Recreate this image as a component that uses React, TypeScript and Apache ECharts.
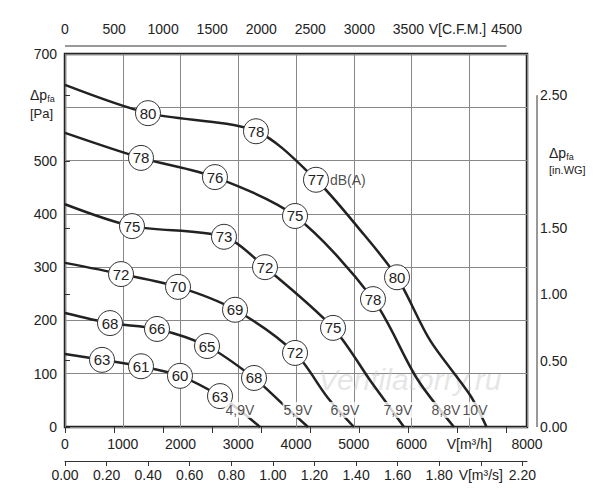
import React, { useEffect, useRef } from "react";
import * as echarts from "echarts";

const curveNames = ["4,9V", "5,9V", "6,9V", "7,9V", "8,8V", "10V"];
const curves: number[][][] = [
  [[0, 137], [641, 126], [1316, 114], [1991, 96], [2684, 58], [3100, 25], [3377, 0]],
  [[0, 214], [779, 195], [1593, 184], [2459, 152], [3273, 92], [3800, 40], [4208, 0]],
  [[0, 308], [970, 287], [1957, 263], [2944, 220], [3983, 139], [4550, 55], [5004, 0]],
  [[0, 418], [1160, 377], [2753, 357], [3463, 300], [4641, 186], [5300, 85], [5870, 0]],
  [[0, 552], [1316, 505], [2597, 469], [3983, 396], [5333, 240], [6100, 90], [6736, 0]],
  [[0, 642], [1437, 589], [3307, 555], [4346, 464], [5108, 370], [5749, 281], [6320, 163], [7013, 60], [7300, 0]],
];
// dB(A) circle labels: [flow, pressure, dB]
const dbLabels: number[][] = [
  [641, 126, 63], [1316, 114, 61], [1991, 96, 60], [2684, 58, 63],
  [779, 195, 68], [1593, 184, 66], [2459, 152, 65], [3273, 92, 68],
  [970, 287, 72], [1957, 263, 70], [2944, 220, 69], [3983, 139, 72],
  [1160, 377, 75], [2753, 357, 73], [3463, 300, 72], [4641, 186, 75],
  [1316, 505, 78], [2597, 469, 76], [3983, 396, 75], [5333, 240, 78],
  [1437, 589, 80], [3307, 555, 78], [4346, 464, 77], [5749, 281, 80],
];
const voltLabelX = [3030, 4035, 4848, 5766, 6597, 7100];
const voltLabelY = 32;
const paTicks = [0, 100, 200, 300, 400, 500, 700];
const cfmTicks = [0, 500, 1000, 1500, 2000, 2500, 3000, 3500, 4000, 4500];
const m3sTicks = [0, 0.2, 0.4, 0.6, 0.8, 1.0, 1.2, 1.4, 1.6, 1.8, 2.0, 2.2];
const inwgTicks = [0, 0.5, 1.0, 1.5, 2.0, 2.5];
const inwgLabels = [0, 0.5, 1.0, 1.5, 2.5];

const FONT = "Liberation Sans";

export default function App() {
  const ref = useRef<HTMLDivElement>(null);
  useEffect(() => {
    const chart = echarts.init(ref.current!, null, { renderer: "svg" });
    const txt = { fontFamily: FONT, fontSize: 14, color: "#222" };
    chart.setOption({
      animation: false,
      grid: { left: 65, right: 73, top: 54, bottom: 73, show: true, borderColor: "#222", borderWidth: 2.5, backgroundColor: "transparent" },
      xAxis: [
        {
          type: "value", min: 0, max: 8000, interval: 1000, position: "bottom",
          axisLine: { show: false }, axisTick: { show: false },
          splitLine: { lineStyle: { color: "#888", width: 1 } },
          axisLabel: { ...txt, margin: 10, formatter: (v: number) => (v === 7000 ? "V[m³/h]" : String(v)) },
        },
        {
          type: "value", min: 0, max: 8000 / 1.699, position: "top", offset: 8,
          axisLine: { show: false }, splitLine: { show: false },
          axisTick: { show: true, inside: true, length: 6, customValues: cfmTicks, lineStyle: { color: "#333" } },
          axisLabel: { ...txt, margin: 10, customValues: cfmTicks, formatter: (v: number) => (v === 4000 ? "V[C.F.M.]" : String(v)) },
        },
        {
          type: "value", min: 0, max: 8000 / 3600, position: "bottom", offset: 34,
          axisLine: { show: true, lineStyle: { color: "#333" } }, splitLine: { show: false },
          axisTick: { show: true, length: 5, customValues: m3sTicks, lineStyle: { color: "#333" } },
          axisLabel: { ...txt, margin: 7, customValues: m3sTicks, formatter: (v: number) => (Math.abs(v - 2) < 1e-6 ? "V[m³/s]" : v.toFixed(2)) },
        },
      ],
      yAxis: [
        {
          type: "value", min: 0, max: 700, interval: 100,
          axisLine: { show: false }, axisTick: { show: false },
          splitLine: { lineStyle: { color: "#888", width: 1 } },
          axisLabel: { ...txt, margin: 8, customValues: paTicks },
        },
        {
          type: "value", min: 0, max: 700 / 249.09, position: "right", offset: 10,
          axisLine: { show: false }, splitLine: { show: false },
          axisTick: { show: true, length: 5, customValues: inwgTicks, lineStyle: { color: "#333" } },
          axisLabel: { ...txt, margin: 3, customValues: inwgLabels, formatter: (v: number) => v.toFixed(2) },
        },
      ],
      graphic: [
        {
          type: "text", left: 30, top: 88,
          style: {
            text: "{a|Δp}{b|fa}\n{c|[Pa]}",
            rich: {
              a: { fontFamily: FONT, fontSize: 14, fill: "#222" },
              b: { fontFamily: FONT, fontSize: 9, fill: "#222", padding: [8, 0, 0, 0] },
              c: { fontFamily: FONT, fontSize: 13, fill: "#222", lineHeight: 20 },
            },
          },
        },
        {
          type: "text", left: 549, top: 146,
          style: {
            text: "{a|Δp}{b|fa}\n{c|[in.WG]}",
            rich: {
              a: { fontFamily: FONT, fontSize: 14, fill: "#222" },
              b: { fontFamily: FONT, fontSize: 9, fill: "#222", padding: [8, 0, 0, 0] },
              c: { fontFamily: FONT, fontSize: 11, fill: "#222", lineHeight: 16 },
            },
          },
        },
        {
          type: "text", left: 318, top: 364, z: 0,
          style: { text: "Ventilatorry.ru", fontFamily: FONT, fontSize: 30, fontStyle: "italic", fill: "rgba(200,200,200,0.45)" },
        },
      ],
      series: [
        ...curves.map((c, i) => ({
          type: "line", name: curveNames[i], data: c, smooth: 0.3, symbol: "none", z: 2,
          lineStyle: { color: "#222", width: 2.5 },
        })),
        {
          type: "scatter", data: dbLabels.map((d) => [d[0], d[1], d[2]]), symbol: "circle", symbolSize: 25, z: 5,
          itemStyle: { color: "#fff", borderColor: "#333", borderWidth: 1, opacity: 1 },
          label: { show: true, position: "inside", formatter: (p: any) => String(p.value[2]), fontFamily: FONT, fontSize: 15, color: "#222" },
        },
        {
          type: "scatter", data: voltLabelX.map((x, i) => [x, voltLabelY, curveNames[i]]), symbolSize: 0, z: 6,
          label: { show: true, position: "inside", formatter: (p: any) => p.value[2], fontFamily: FONT, fontSize: 14, color: "#222", backgroundColor: "#fff", padding: [1, 1] },
        },
        {
          type: "scatter", data: [[4346, 464]], symbolSize: 0, z: 6,
          label: { show: true, position: "right", distance: 14, formatter: "dB(A)", fontFamily: FONT, fontSize: 14, color: "#222" },
        },
      ],
    });
    const g: any[] = [];
    const a = chart.convertToPixel({ xAxisIndex: 1 }, 0) as number;
    const b = chart.convertToPixel({ xAxisIndex: 1 }, 4500) as number;
    g.push({ type: "line", shape: { x1: a, y1: 46, x2: b, y2: 46 }, style: { stroke: "#333", lineWidth: 1 } });
    const y0 = chart.convertToPixel({ yAxisIndex: 1 }, 0) as number;
    const y1 = chart.convertToPixel({ yAxisIndex: 1 }, 2.5) as number;
    g.push({ type: "line", shape: { x1: 537, y1: y0, x2: 537, y2: y1 }, style: { stroke: "#333", lineWidth: 1 } });
    const prev = (chart.getOption() as any).graphic[0].elements;
    chart.setOption({ graphic: [...prev.map((e: any) => ({ ...e })), ...g] }, { replaceMerge: ["graphic"] } as any);
    return () => chart.dispose();
  }, []);
  return <div ref={ref} style={{ width: 600, height: 500, position: "absolute", left: 0, top: 0 }} />;
}
